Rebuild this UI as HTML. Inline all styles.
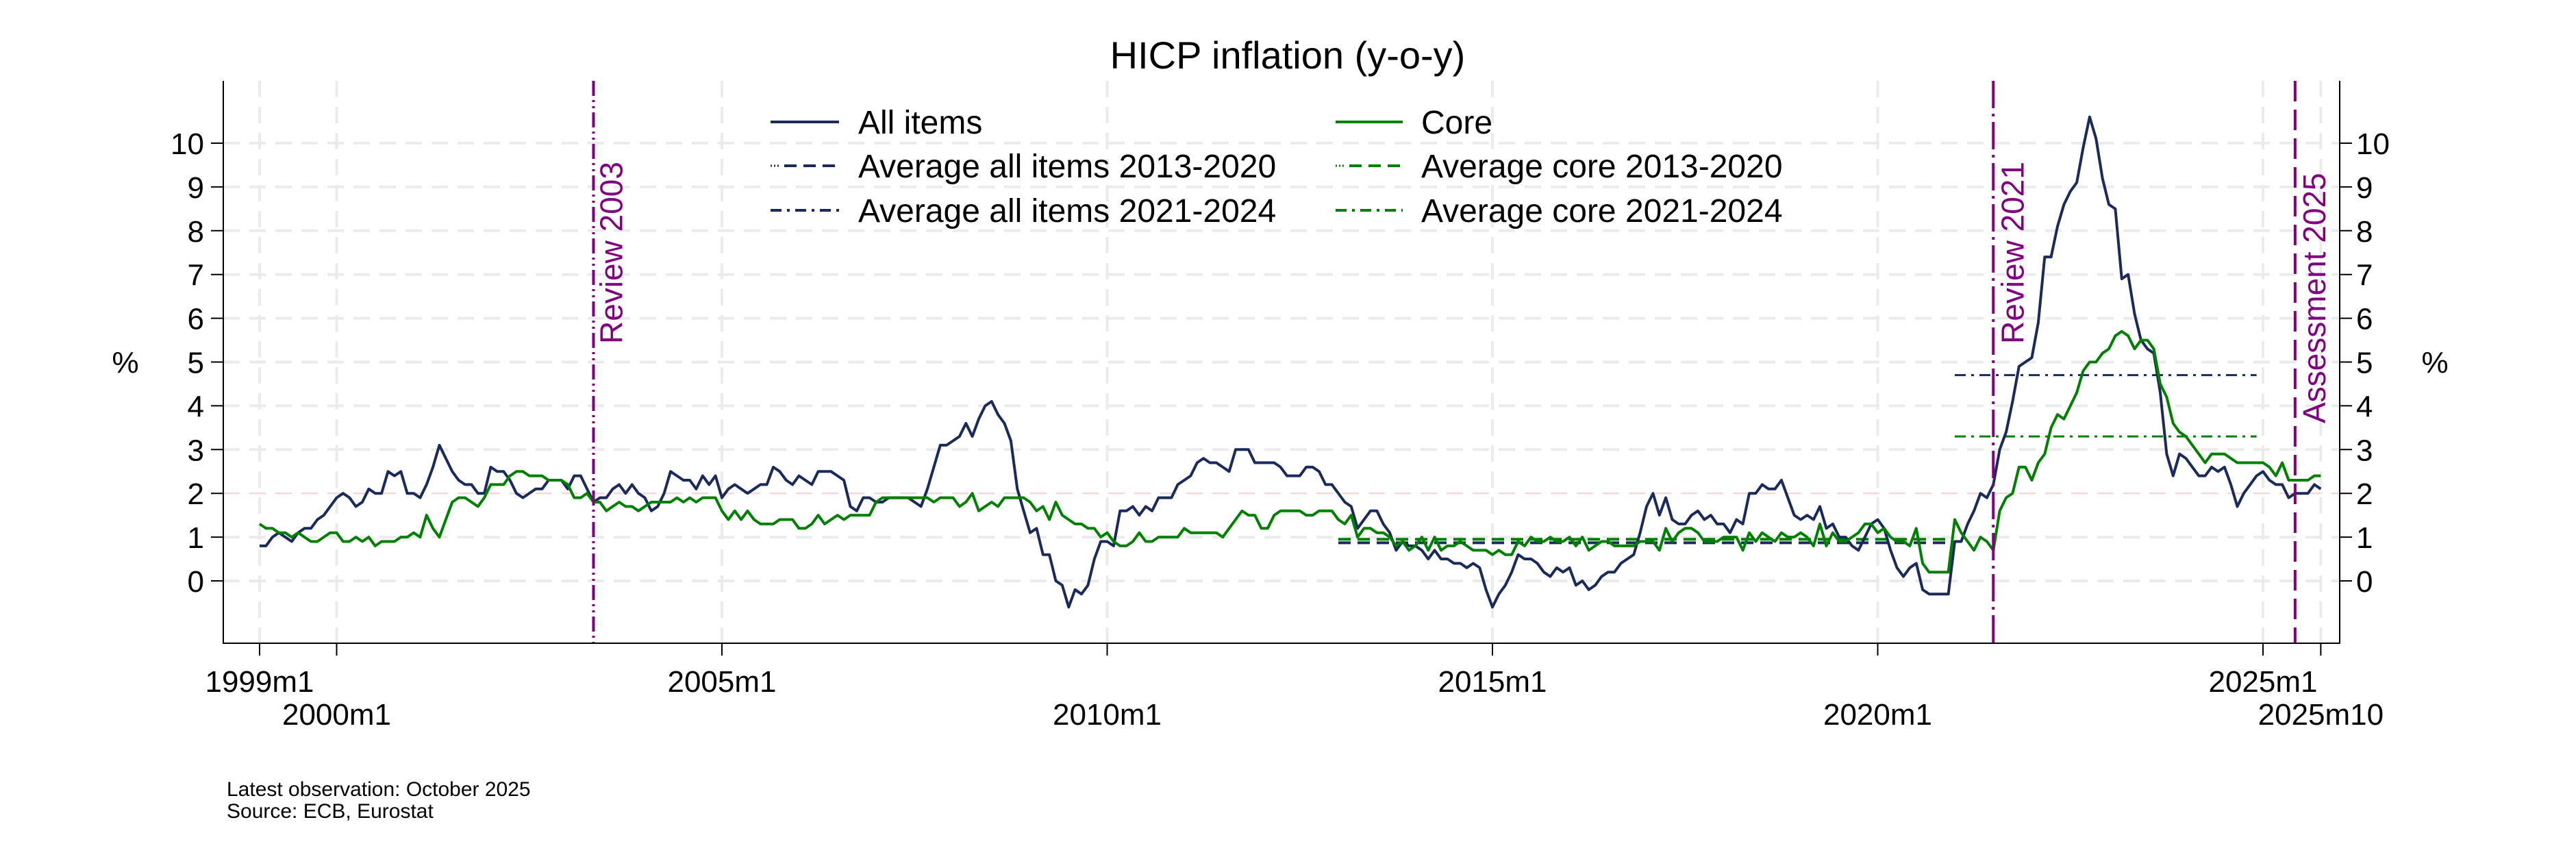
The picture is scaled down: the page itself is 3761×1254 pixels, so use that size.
<!DOCTYPE html>
<html><head><meta charset="utf-8"><style>
html,body{margin:0;padding:0;background:#fff;}
svg{display:block;font-family:"Liberation Sans",Arial,sans-serif;}
</style></head><body>
<svg id="c" width="3761" height="1254" viewBox="0 0 3761 1254" xmlns="http://www.w3.org/2000/svg">
<rect width="3761" height="1254" fill="#fff"/>
<g id="grid"></g>
<g id="series"></g>
<g id="axes"></g>
<text x="1880" y="100" font-size="56" text-anchor="middle">HICP inflation (y-o-y)</text>
<!-- legend -->
<g font-size="48">
<line x1="1125" y1="178" x2="1225" y2="178" stroke="#1a2a5a" stroke-width="4"/>
<text x="1253" y="195">All items</text>
<line x1="1125" y1="242" x2="1140" y2="242" stroke="#1a2a5a" stroke-width="3" stroke-dasharray="2 3"/>
<line x1="1145" y1="242" x2="1225" y2="242" stroke="#1a2a5a" stroke-width="4" stroke-dasharray="18 10"/>
<text x="1253" y="259">Average all items 2013-2020</text>
<line x1="1125" y1="307" x2="1225" y2="307" stroke="#1a2a5a" stroke-width="4" stroke-dasharray="16 8 4 8"/>
<text x="1253" y="324">Average all items 2021-2024</text>
<line x1="1950" y1="178" x2="2048" y2="178" stroke="#008000" stroke-width="4"/>
<text x="2075" y="195">Core</text>
<line x1="1950" y1="242" x2="1965" y2="242" stroke="#008000" stroke-width="3" stroke-dasharray="2 3"/>
<line x1="1970" y1="242" x2="2048" y2="242" stroke="#008000" stroke-width="4" stroke-dasharray="18 10"/>
<text x="2075" y="259">Average core 2013-2020</text>
<line x1="1950" y1="307" x2="2048" y2="307" stroke="#008000" stroke-width="4" stroke-dasharray="16 8 4 8"/>
<text x="2075" y="324">Average core 2021-2024</text>
</g>
<text x="183" y="544" font-size="44" text-anchor="middle">%</text>
<text x="3555" y="544" font-size="44" text-anchor="middle">%</text>
<g font-size="30">
<text x="331" y="1162">Latest observation: October 2025</text>
<text x="331" y="1194">Source: ECB, Eurostat</text>
</g>
</svg>
<script>
var X0=379,DX=9.375,Y0=848,DY=63.9;
function xm(m){return X0+m*DX;}
function yv(v){return Y0-v*DY;}
var NS="http://www.w3.org/2000/svg";
function el(p,t,a,txt){var e=document.createElementNS(NS,t);for(var k in a)e.setAttribute(k,a[k]);if(txt!=null)e.textContent=txt;document.getElementById(p).appendChild(e);return e;}
var all=[0.8,0.8,1.0,1.1,1.0,0.9,1.1,1.2,1.2,1.4,1.5,1.7,
1.9,2.0,1.9,1.7,1.8,2.1,2.0,2.0,2.5,2.4,2.5,2.0,
2.0,1.9,2.2,2.6,3.1,2.8,2.5,2.3,2.2,2.2,2.0,2.0,
2.6,2.5,2.5,2.3,2.0,1.9,2.0,2.1,2.1,2.3,2.3,2.3,
2.1,2.4,2.4,2.1,1.8,1.9,1.9,2.1,2.2,2.0,2.2,2.0,
1.9,1.6,1.7,2.0,2.5,2.4,2.3,2.3,2.1,2.4,2.2,2.4,
1.9,2.1,2.2,2.1,2.0,2.1,2.2,2.2,2.6,2.5,2.3,2.2,
2.4,2.3,2.2,2.5,2.5,2.5,2.4,2.3,1.7,1.6,1.9,1.9,
1.8,1.8,1.9,1.9,1.9,1.9,1.8,1.7,2.1,2.6,3.1,3.1,
3.2,3.3,3.6,3.3,3.7,4.0,4.1,3.8,3.6,3.2,2.1,1.6,
1.1,1.2,0.6,0.6,0.0,-0.1,-0.6,-0.2,-0.3,-0.1,0.5,0.9,
0.9,0.8,1.6,1.6,1.7,1.5,1.7,1.6,1.9,1.9,1.9,2.2,
2.3,2.4,2.7,2.8,2.7,2.7,2.6,2.5,3.0,3.0,3.0,2.7,
2.7,2.7,2.7,2.6,2.4,2.4,2.4,2.6,2.6,2.5,2.2,2.2,
2.0,1.8,1.7,1.2,1.4,1.6,1.6,1.3,1.1,0.7,0.9,0.8,
0.8,0.7,0.5,0.7,0.5,0.5,0.4,0.4,0.3,0.4,0.3,-0.2,
-0.6,-0.3,-0.1,0.2,0.6,0.5,0.5,0.4,0.2,0.1,0.3,0.2,
0.3,-0.1,0.0,-0.2,-0.1,0.1,0.2,0.2,0.4,0.5,0.6,1.1,
1.7,2.0,1.5,1.9,1.4,1.3,1.3,1.5,1.6,1.4,1.5,1.3,
1.3,1.1,1.4,1.3,2.0,2.0,2.2,2.1,2.1,2.3,1.9,1.5,
1.4,1.5,1.4,1.7,1.2,1.3,1.0,1.0,0.8,0.7,1.0,1.3,
1.4,1.2,0.7,0.3,0.1,0.3,0.4,-0.2,-0.3,-0.3,-0.3,-0.3,
0.9,0.9,1.3,1.6,2.0,1.9,2.2,3.0,3.4,4.1,4.9,5.0,
5.1,5.9,7.4,7.4,8.1,8.6,8.9,9.1,9.9,10.6,10.1,9.2,
8.6,8.5,6.9,7.0,6.1,5.5,5.3,5.2,4.3,2.9,2.4,2.9,
2.8,2.6,2.4,2.4,2.6,2.5,2.6,2.2,1.7,2.0,2.2,2.4,
2.5,2.3,2.2,2.2,1.9,2.0,2.0,2.0,2.2,2.1];
var core=[1.3,1.2,1.2,1.1,1.1,1.0,1.1,1.0,0.9,0.9,1.0,1.1,
1.1,0.9,0.9,1.0,0.9,1.0,0.8,0.9,0.9,0.9,1.0,1.0,
1.1,1.0,1.5,1.2,1.0,1.4,1.8,1.9,1.9,1.8,1.7,1.9,
2.2,2.2,2.2,2.4,2.5,2.5,2.4,2.4,2.4,2.3,2.3,2.3,
2.2,1.9,1.9,2.0,1.8,1.8,1.6,1.7,1.8,1.7,1.7,1.6,
1.7,1.8,1.8,1.8,1.8,1.9,1.8,1.9,1.8,1.9,1.9,1.9,
1.6,1.4,1.6,1.4,1.6,1.4,1.3,1.3,1.3,1.4,1.4,1.4,
1.2,1.2,1.3,1.5,1.3,1.4,1.5,1.4,1.5,1.5,1.5,1.5,
1.8,1.9,1.9,1.9,1.9,1.9,1.9,1.9,1.9,1.8,1.9,1.9,
1.9,1.7,1.8,2.0,1.6,1.7,1.8,1.7,1.9,1.9,1.9,1.9,
1.8,1.6,1.7,1.4,1.8,1.5,1.4,1.3,1.3,1.2,1.2,1.0,
1.1,0.9,0.8,0.8,0.9,1.1,0.9,0.9,1.0,1.0,1.0,1.0,
1.2,1.1,1.1,1.1,1.1,1.1,1.0,1.2,1.4,1.6,1.5,1.5,
1.2,1.2,1.5,1.6,1.6,1.6,1.6,1.5,1.5,1.6,1.6,1.6,
1.4,1.3,1.5,1.0,1.2,1.2,1.1,1.1,1.0,0.8,0.9,0.7,
0.8,1.0,0.7,1.0,0.7,0.8,0.8,0.9,0.8,0.7,0.7,0.7,
0.6,0.7,0.6,0.6,0.9,0.8,1.0,0.9,0.9,1.0,0.9,0.9,
1.0,0.8,1.0,0.7,0.8,0.9,0.9,0.8,0.8,0.8,0.8,0.9,
0.9,0.9,0.7,1.2,0.9,1.1,1.2,1.2,1.1,0.9,0.9,0.9,
1.0,1.0,1.0,0.7,1.1,0.9,1.1,1.0,0.9,1.1,1.0,1.0,
1.1,1.0,0.8,1.3,0.8,1.1,0.9,0.9,1.0,1.1,1.3,1.3,
1.1,1.2,1.0,0.9,0.9,0.8,1.2,0.4,0.2,0.2,0.2,0.2,
1.4,1.1,0.9,0.7,1.0,0.9,0.7,1.6,1.9,2.0,2.6,2.6,
2.3,2.7,2.9,3.5,3.8,3.7,4.0,4.3,4.8,5.0,5.0,5.2,
5.3,5.6,5.7,5.6,5.3,5.5,5.5,5.3,4.5,4.2,3.6,3.4,
3.3,3.1,2.9,2.7,2.9,2.9,2.9,2.8,2.7,2.7,2.7,2.7,
2.7,2.6,2.4,2.7,2.3,2.3,2.3,2.3,2.4,2.4];
var LX=326,RX=3416,TY=118,BY=939;
for(var v=0;v<=10;v++){el("grid","line",{x1:LX,x2:RX,y1:yv(v),y2:yv(v),stroke:v==2?"#f6d0d0":"#ebebeb","stroke-width":v==2?2:4,"stroke-dasharray":"24 14"});}
var xt=[0,12,72,132,192,252,312,321];
xt.forEach(function(m){el("grid","line",{x1:xm(m),x2:xm(m),y1:TY,y2:BY,stroke:"#ebebeb","stroke-width":4,"stroke-dasharray":"24 14"});});
el("series","line",{x1:xm(168),x2:xm(263),y1:yv(0.95),y2:yv(0.95),stroke:"#008000","stroke-width":4,"stroke-dasharray":"18 10"});
el("series","line",{x1:xm(168),x2:xm(263),y1:yv(0.87),y2:yv(0.87),stroke:"#1a2a5a","stroke-width":4,"stroke-dasharray":"18 10"});
el("series","line",{x1:xm(264),x2:xm(311),y1:yv(4.7),y2:yv(4.7),stroke:"#1a2a5a","stroke-width":3,"stroke-dasharray":"16 8 4 8"});
el("series","line",{x1:xm(264),x2:xm(311),y1:yv(3.3),y2:yv(3.3),stroke:"#008000","stroke-width":3,"stroke-dasharray":"16 8 4 8"});
function path(d,c){var s="";for(var i=0;i<d.length;i++)s+=(i?"L":"M")+xm(i).toFixed(1)+","+yv(d[i]).toFixed(1);el("series","path",{d:s,fill:"none",stroke:c,"stroke-width":4,"stroke-linejoin":"round"});}
path(all,"#1a2a5a");path(core,"#008000");
el("series","line",{x1:xm(52),x2:xm(52),y1:TY,y2:BY,stroke:"#800080","stroke-width":4,"stroke-dasharray":"22 6 3 6 3 6"});
el("series","line",{x1:xm(270),x2:xm(270),y1:TY,y2:BY,stroke:"#800080","stroke-width":4,"stroke-dasharray":"40 8 4 8"});
el("series","line",{x1:xm(317),x2:xm(317),y1:TY,y2:BY,stroke:"#800080","stroke-width":4,"stroke-dasharray":"30 12"});
function vt(x,y,t){el("series","text",{x:x,y:y,transform:"rotate(-90 "+x+" "+y+")","font-size":46,fill:"#800080"},t);}
vt(xm(52)+42,502,"Review 2003");vt(xm(270)+44,502,"Review 2021");vt(xm(317)+44,618,"Assessment 2025");
el("axes","line",{x1:LX,x2:LX,y1:TY,y2:BY+1,stroke:"#000","stroke-width":2});
el("axes","line",{x1:RX,x2:RX,y1:TY,y2:BY+1,stroke:"#000","stroke-width":2});
el("axes","line",{x1:LX,x2:RX,y1:BY,y2:BY,stroke:"#000","stroke-width":2});
for(var v=0;v<=10;v++){var y=yv(v);
el("axes","line",{x1:LX-18,x2:LX,y1:y,y2:y,stroke:"#000","stroke-width":2});
el("axes","line",{x1:RX,x2:RX+18,y1:y,y2:y,stroke:"#000","stroke-width":2});
el("axes","text",{x:LX-28,y:y+16,"font-size":44,"text-anchor":"end"},""+v);
el("axes","text",{x:RX+24,y:y+16,"font-size":44},""+v);}
var lab={0:"1999m1",12:"2000m1",72:"2005m1",132:"2010m1",192:"2015m1",252:"2020m1",312:"2025m1",321:"2025m10"};
var up={0:1,72:1,192:1,312:1};
xt.forEach(function(m){el("axes","line",{x1:xm(m),x2:xm(m),y1:BY,y2:BY+18,stroke:"#000","stroke-width":2});
el("axes","text",{x:xm(m),y:up[m]?1010:1058,"font-size":44,"text-anchor":"middle"},lab[m]);});
</script>
</body></html>
